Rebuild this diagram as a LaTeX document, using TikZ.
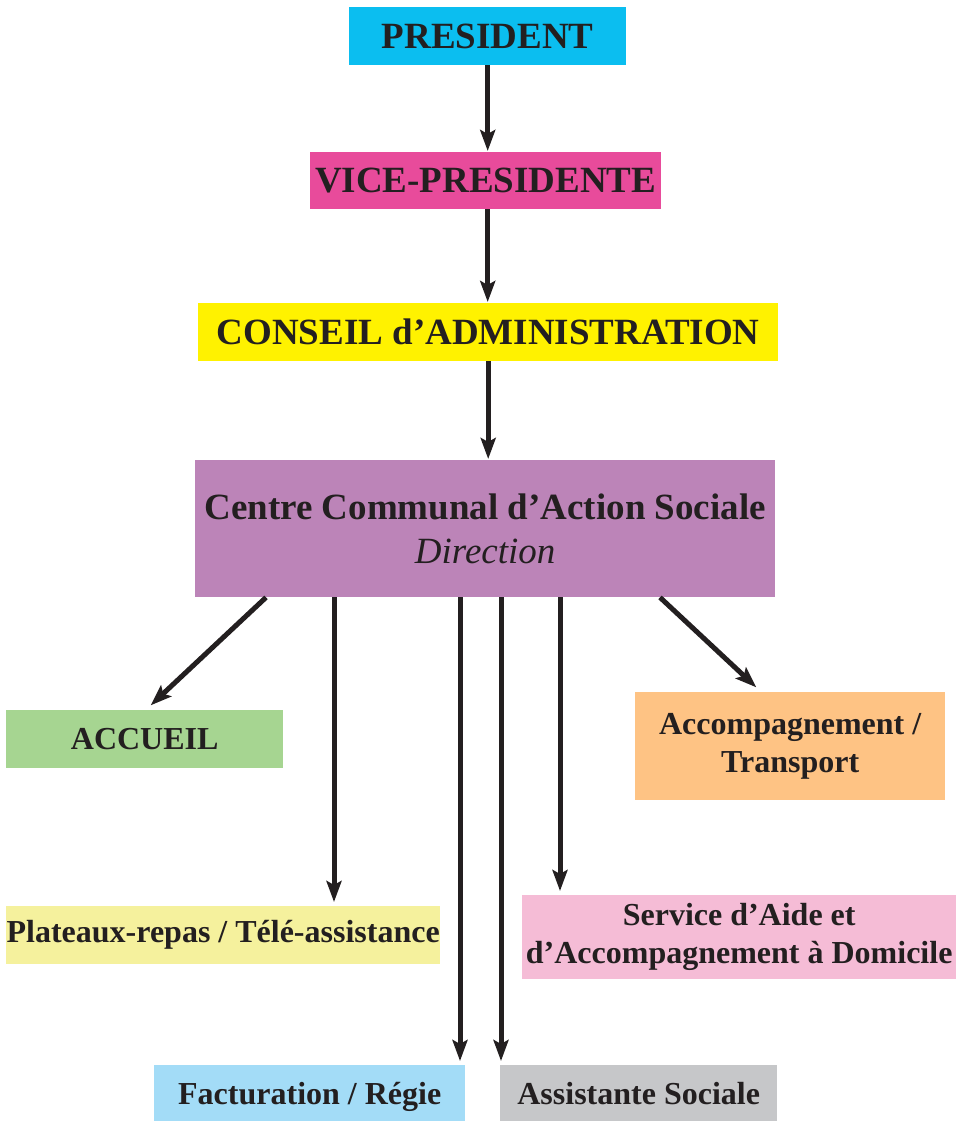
\documentclass[tikz,border=0pt]{standalone}
\usepackage{fontspec}
\setmainfont{Liberation Serif}
\usetikzlibrary{arrows.meta,calc}
\definecolor{ink}{HTML}{231F20}
\definecolor{cpres}{HTML}{0BBEF0}
\definecolor{cvice}{HTML}{E84B9B}
\definecolor{ccons}{HTML}{FFF200}
\definecolor{cccas}{HTML}{BC84B8}
\definecolor{cacc}{HTML}{A6D591}
\definecolor{cacmp}{HTML}{FEC384}
\definecolor{cplat}{HTML}{F5F19D}
\definecolor{csaad}{HTML}{F5BCD6}
\definecolor{cfact}{HTML}{A3DCF7}
\definecolor{casst}{HTML}{C6C7C9}
\begin{document}
\begin{tikzpicture}[x=1pt,y=-1pt,
  box/.style={anchor=north west, inner sep=0pt, align=center, text=ink},
  big/.style={font=\bfseries\fontsize{37}{44}\selectfont},
  small/.style={font=\bfseries\fontsize{32}{38}\selectfont},
  arr/.style={line width=5pt, draw=ink, shorten >=1pt, -{Stealth[length=21pt,width=15pt,inset=4pt]}}]
\useasboundingbox (0,0) rectangle (962,1121);
\node[box,big,fill=cpres,minimum width=277pt,minimum height=58pt] (pres) at (349,7) {PRESIDENT};
\node[box,big,fill=cvice,minimum width=351pt,minimum height=57pt] (vice) at (310,152) {VICE-PRESIDENTE};
\node[box,big,fill=ccons,minimum width=580pt,minimum height=58pt] (cons) at (198,303) {CONSEIL d’ADMINISTRATION};
\node[box,fill=cccas,minimum width=580pt,minimum height=137pt,font=\fontsize{37}{44}\selectfont] (ccas) at (195,460) {\textbf{Centre Communal d’Action Sociale}\\\textit{Direction}};
\node[box,small,fill=cacc,minimum width=277pt,minimum height=58pt] (acc) at (6,710) {ACCUEIL};
\node[box,small,fill=cacmp,minimum width=310pt,minimum height=108pt] (acmp) at (635,692) {Accompagnement /\\Transport};
\node[box,small,fill=cplat,minimum width=434pt,minimum height=58pt] (plat) at (6,906) {Plateaux-repas / Télé-assistance};
\node[box,small,fill=csaad,minimum width=434pt,minimum height=84pt] (saad) at (522,895) {Service d’Aide et\\d’Accompagnement à Domicile};
\node[box,small,fill=cfact,minimum width=311pt,minimum height=56pt,text depth=0pt] (fact) at (154,1065) {Facturation / Régie};
\node[box,small,fill=casst,minimum width=277pt,minimum height=56pt] (asst) at (500,1065) {Assistante Sociale};
\coordinate (v1) at ($(vice.south)+(2,0)$);
\draw[arr] (pres.south) -- (pres.south |- vice.north);
\draw[arr] (v1) -- (v1 |- cons.north);
\draw[arr] (cons.south) -- (cons.south |- ccas.north);
\draw[arr] ($(ccas.south west)+(71,0)$) -- ($(acc.north west)+(144,-4)$);
\draw[arr] ($(ccas.south west)+(465,0)$) -- ($(acmp.north west)+(122,-4)$);
\draw[arr] ($(ccas.south west)+(139,0)$) -- ($(plat.north west)+(328,-3)$);
\draw[arr] ($(ccas.south west)+(265,0)$) -- ($(fact.north west)+(306,-3)$);
\draw[arr] ($(ccas.south west)+(306,0)$) -- ($(asst.north west)+(1,-3)$);
\draw[arr] ($(ccas.south west)+(365,0)$) -- ($(saad.north west)+(38,-3)$);
\end{tikzpicture}
\end{document}
